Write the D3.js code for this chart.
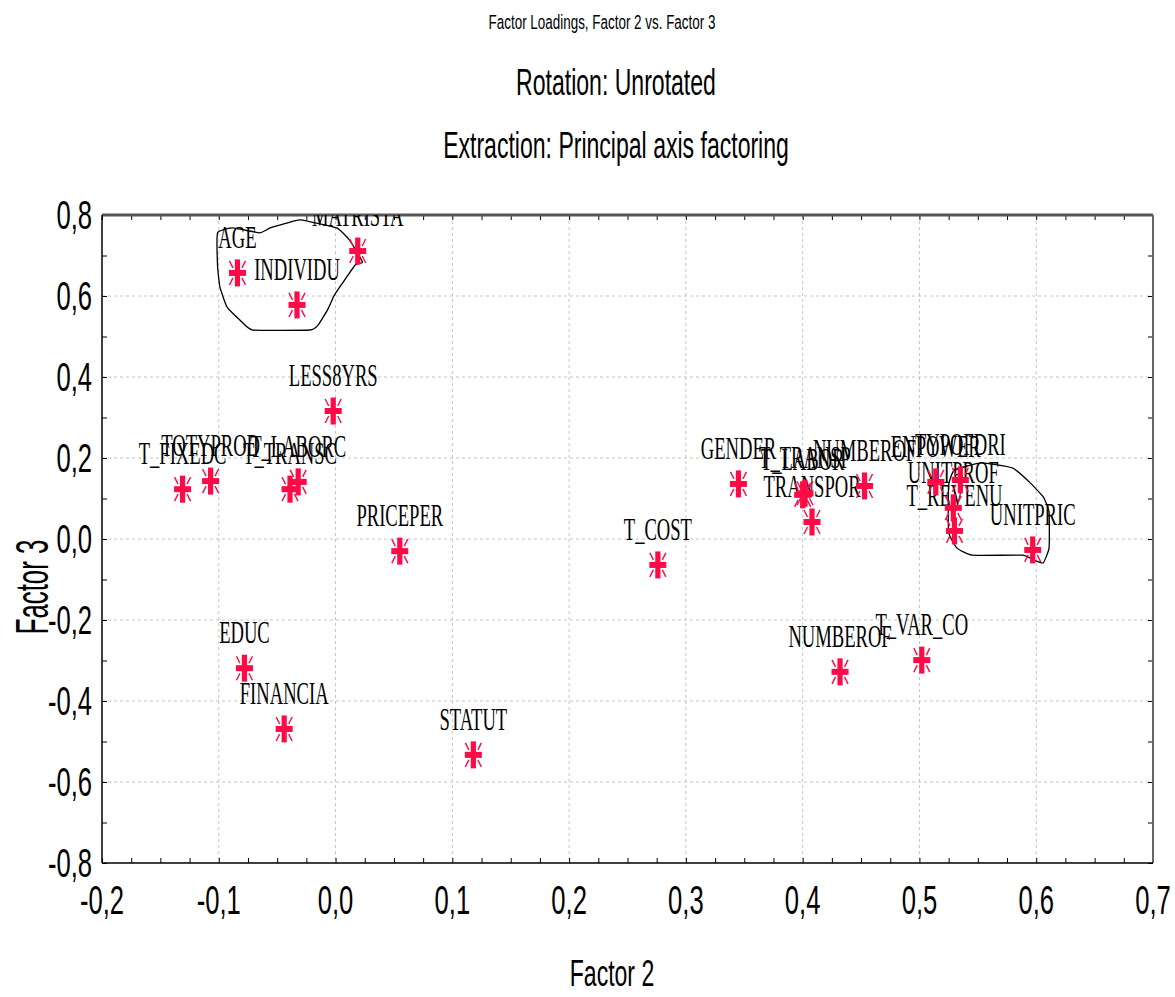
<!DOCTYPE html>
<html>
<head>
<meta charset="utf-8">
<script src="https://cdn.jsdelivr.net/npm/d3@7"></script>
<style>
  body { margin: 0; background: #fff; }
  svg { display: block; }
  .grid line { stroke: #c4c4c4; stroke-dasharray: 3,3; stroke-width: 1; }
</style>
</head>
<body>
<script>
(function(){

//variable names and their loadings
var varNames = ["MATRISTA", "AGE", "INDIVIDU", "LESS8YRS", "T_FIXEDC", "TOTYPROD", "T_TRANSC", "T_LABORC",
  "PRICEPER", "T_COST", "GENDER", "T_LABOR", "T_TRANSP", "TRANSPOR", "NUMBEROF", "ENPOWER", "TYPOFDRI",
  "UNITPROF", "T_REVENU", "UNITPRIC", "EDUC", "FINANCIA", "STATUT", "NUMBEROF", "T_VAR_CO"];
var factor2 = [0.019, -0.084, -0.033, -0.002, -0.131, -0.107, -0.039, -0.032,
  0.055, 0.276, 0.345, 0.400, 0.402, 0.408, 0.453, 0.514, 0.535,
  0.529, 0.530, 0.597, -0.078, -0.044, 0.118, 0.432, 0.502];
var factor3 = [0.711, 0.657, 0.578, 0.316, 0.123, 0.143, 0.123, 0.141,
  -0.030, -0.064, 0.136, 0.109, 0.113, 0.042, 0.131, 0.141, 0.146,
  0.077, 0.020, -0.027, -0.319, -0.469, -0.533, -0.328, -0.299];

//outlines drawn round the two groups (factor 2, factor 3)
var hullLeftX = [-0.030, 0.001, 0.012, 0.023, 0.017, 0.006, -0.001, -0.007, -0.015, -0.022,
  -0.071, -0.082, -0.093, -0.099, -0.101, -0.101, -0.088, -0.065, -0.056, -0.042];
var hullLeftY = [0.788, 0.768, 0.738, 0.684, 0.677, 0.632, 0.602, 0.565, 0.528, 0.516,
  0.516, 0.541, 0.573, 0.622, 0.672, 0.756, 0.768, 0.756, 0.768, 0.780];
var hullRightX = [0.525, 0.530, 0.553, 0.580, 0.594, 0.606, 0.611, 0.611, 0.606, 0.598, 0.588, 0.545, 0.532, 0.525];
var hullRightY = [0.133, 0.170, 0.188, 0.175, 0.141, 0.104, 0.067, -0.022, -0.059, -0.052, -0.040, -0.040, -0.022, 0.017];

var xTicks = [-0.2, -0.1, 0.0, 0.1, 0.2, 0.3, 0.4, 0.5, 0.6, 0.7];
var yTicks = [-0.8, -0.6, -0.4, -0.2, 0.0, 0.2, 0.4, 0.6, 0.8];

var width = 1175, height = 997,
    left = 102, right = 1153, top = 215, bottom = 863;

var sansScale = 0.64, serifScale = 0.6;
var red = "#ff0a47";

var x = d3.scaleLinear().domain([-0.2, 0.7]).range([left, right]);
var y = d3.scaleLinear().domain([-0.8, 0.8]).range([bottom, top]);
var fmt = function(d){ return d3.format(".1f")(d).replace(".", ",").replace("−", "-"); };

var svg = d3.select("body").append("svg")
    .attr("width", width)
    .attr("height", height);

//condensed text helper
function ctext(g, tx, ty, txt, size, sx, anchor, family, rot){
    return g.append("text")
        .attr("transform", "translate(" + tx + "," + ty + ")" + (rot ? " rotate(" + rot + ")" : "") + " scale(" + sx + ",1)")
        .attr("text-anchor", anchor || "middle")
        .style("font-family", family || "'Liberation Sans', Arial, sans-serif")
        .style("font-size", size + "px")
        .text(txt);
}

//titles
ctext(svg, 602, 29, "Factor Loadings, Factor 2 vs. Factor 3", 21, sansScale);
ctext(svg, 616, 95, "Rotation: Unrotated", 36, sansScale);
ctext(svg, 616, 158, "Extraction: Principal axis factoring", 36, sansScale);

//grid
var grid = svg.append("g").attr("class", "grid");
grid.selectAll(".gx").data(xTicks.slice(1, -1)).enter().append("line")
    .attr("x1", function(d){ return x(d); }).attr("x2", function(d){ return x(d); })
    .attr("y1", top).attr("y2", bottom);
grid.selectAll(".gy").data(yTicks.slice(1, -1)).enter().append("line")
    .attr("y1", function(d){ return y(d); }).attr("y2", function(d){ return y(d); })
    .attr("x1", left).attr("x2", right);

//ticks, all pointing inwards
var xMinor = d3.range(-0.2, 0.7001, 0.025);
var yMinor = d3.range(-0.8, 0.8001, 0.1);
svg.append("g").attr("transform", "translate(0," + bottom + ")")
    .call(d3.axisTop(x).tickValues(xMinor).tickSize(5).tickFormat(""))
    .call(function(g){ g.select(".domain").remove(); });
svg.append("g").attr("transform", "translate(0," + top + ")")
    .call(d3.axisBottom(x).tickValues(xMinor).tickSize(5).tickFormat(""))
    .call(function(g){ g.select(".domain").remove(); });
svg.append("g").attr("transform", "translate(" + left + ",0)")
    .call(d3.axisRight(y).tickValues(yMinor).tickSize(5).tickFormat(""))
    .call(function(g){ g.select(".domain").remove(); });
svg.append("g").attr("transform", "translate(" + right + ",0)")
    .call(d3.axisLeft(y).tickValues(yMinor).tickSize(5).tickFormat(""))
    .call(function(g){ g.select(".domain").remove(); });

//frame
svg.append("line").attr("x1", left).attr("x2", right).attr("y1", top).attr("y2", top)
    .attr("stroke", "#555").attr("stroke-width", 3);
svg.append("line").attr("x1", right).attr("x2", right).attr("y1", top).attr("y2", bottom)
    .attr("stroke", "#666").attr("stroke-width", 2);
svg.append("line").attr("x1", left).attr("x2", right).attr("y1", bottom).attr("y2", bottom)
    .attr("stroke", "#000").attr("stroke-width", 1.5);
svg.append("line").attr("x1", left).attr("x2", left).attr("y1", top).attr("y2", bottom)
    .attr("stroke", "#000").attr("stroke-width", 1.5);

//tick labels
var lbls = svg.append("g");
xTicks.forEach(function(d){ ctext(lbls, x(d), 914, fmt(d), 40, sansScale); });
yTicks.forEach(function(d){ ctext(lbls, 92, y(d) + 14, fmt(d), 40, sansScale, "end"); });

//axis titles
ctext(svg, 612, 986, "Factor 2", 36, sansScale);
ctext(svg, 48, 587, "Factor 3", 46, 0.56, "middle", null, -90);

//clip for the plot
svg.append("clipPath").attr("id", "plotclip").append("rect")
    .attr("x", left).attr("y", top).attr("width", right - left).attr("height", bottom - top);
var plot = svg.append("g").attr("clip-path", "url(#plotclip)");

//hull outlines
var hullLine = d3.line()
    .x(function(d){ return x(d[0]); })
    .y(function(d){ return y(d[1]); })
    .curve(d3.curveCardinalClosed.tension(0.6));
[[hullLeftX, hullLeftY], [hullRightX, hullRightY]].forEach(function(h){
    plot.append("path")
        .attr("d", hullLine(d3.zip(h[0], h[1])))
        .attr("fill", "none")
        .attr("stroke", "#000")
        .attr("stroke-width", 1.3);
});

var points = d3.range(varNames.length).map(function(i){
    return { name: varNames[i], f2: factor2[i], f3: factor3[i] };
});

//point labels
points.forEach(function(p){
    ctext(plot, x(p.f2), y(p.f3) - 25, p.name, 31, serifScale, "middle", "'Liberation Serif', 'Times New Roman', serif");
});

//markers: thick plus with thin diagonal spokes
var marks = plot.selectAll(".mark")
    .data(points)
    .enter()
    .append("g")
    .attr("class", "mark")
    .attr("transform", function(d){ return "translate(" + x(d.f2) + "," + y(d.f3) + ")"; });
marks.append("rect").attr("x", -8.5).attr("y", -3).attr("width", 17).attr("height", 6).attr("fill", red);
marks.append("rect").attr("x", -2.6).attr("y", -13.5).attr("width", 5.2).attr("height", 27).attr("fill", red);
marks.append("path")
    .attr("d", "M-4.5,-5L-8,-12M4.5,-5L8,-12M-4.5,5L-8,12M4.5,5L8,12")
    .attr("stroke", red)
    .attr("stroke-width", 1.4);

})();
</script>
</body>
</html>
